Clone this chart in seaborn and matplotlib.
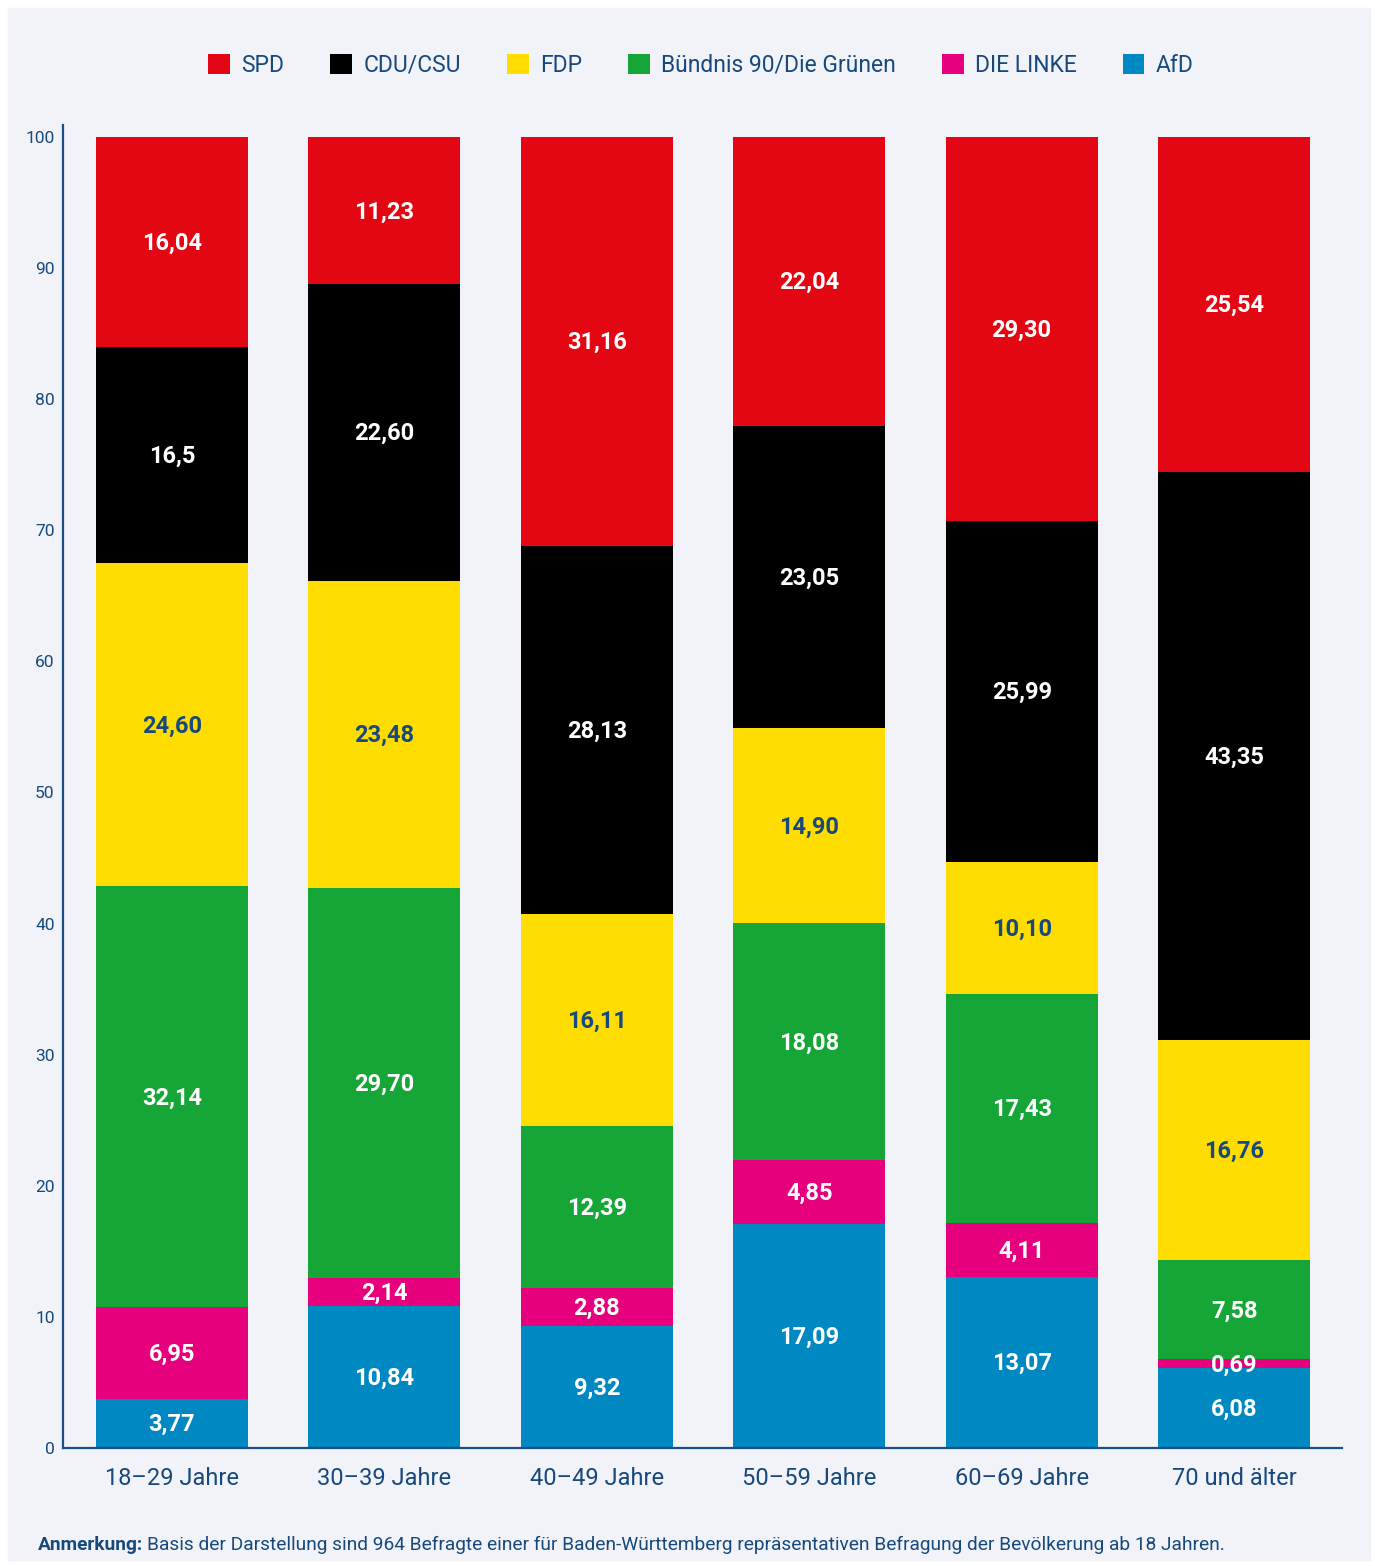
import matplotlib
matplotlib.use("Agg")
import matplotlib.pyplot as plt
import matplotlib.patches as mpatches
import numpy as np
import pandas as pd
import seaborn as sns

# data (bottom of the stack first)
ages = ['18–29 Jahre', '30–39 Jahre', '40–49 Jahre', '50–59 Jahre', '60–69 Jahre', '70 und älter']
afd = [3.77, 10.84, 9.32, 17.09, 13.07, 6.08]
linke = [6.95, 2.14, 2.88, 4.85, 4.11, 0.69]
gruene = [32.14, 29.70, 12.39, 18.08, 17.43, 7.58]
fdp = [24.60, 23.48, 16.11, 14.90, 10.10, 16.76]
cdu = [16.5, 22.60, 28.13, 23.05, 25.99, 43.35]
spd = [16.04, 11.23, 31.16, 22.04, 29.30, 25.54]

parties = ['AfD', 'DIE LINKE', 'Bündnis 90/Die Grünen', 'FDP', 'CDU/CSU', 'SPD']
series = [afd, linke, gruene, fdp, cdu, spd]
colors = {'SPD': '#e30613', 'CDU/CSU': '#000000', 'FDP': '#ffdd00',
          'Bündnis 90/Die Grünen': '#16a637', 'DIE LINKE': '#e6007e', 'AfD': '#0088c3'}
legend_order = ['SPD', 'CDU/CSU', 'FDP', 'Bündnis 90/Die Grünen', 'DIE LINKE', 'AfD']
label_override = {('CDU/CSU', 0): '16,5'}

dark = '#17497c'
bg = '#f2f3f9'

sns.set_theme(style='white')
plt.rcParams['font.family'] = ['Roboto', 'DejaVu Sans']

# long table with stack positions
rows = []
for party, vals in zip(parties, series):
    for age, v in zip(ages, vals):
        rows.append({'age': age, 'party': party, 'value': v})
df = pd.DataFrame(rows)
df['top'] = df.groupby('age')['value'].cumsum()
df['bottom'] = df['top'] - df['value']

fig = plt.figure(figsize=(13.75, 15.66), dpi=100, facecolor='white')
fig.patches.append(mpatches.Rectangle((8 / 1375, 1 - 1560 / 1566), 1362 / 1375, 1552 / 1566,
                                      transform=fig.transFigure, color=bg, zorder=-10))
ax = fig.add_axes([63 / 1375, 1 - 1448 / 1566, (1342 - 63) / 1375, (1448 - 125) / 1566])
ax.set_facecolor(bg)

# draw cumulative tops from the top segment down so each covers the rest
for party in reversed(parties):
    sub = df[df.party == party]
    sns.barplot(data=sub, x='age', y='top', order=ages, color=colors[party],
                saturation=1, width=0.716, ax=ax, errorbar=None, linewidth=0)

for _, r in df.iterrows():
    i = ages.index(r.age)
    txt = label_override.get((r.party, i), f"{r.value:.2f}".replace('.', ','))
    tc = dark if r.party == 'FDP' else 'white'
    ax.text(i, (r.top + r.bottom) / 2 - 0.1, txt, ha='center', va='center',
            fontsize=17, fontweight='bold', color=tc)

ax.set_xlim(-0.513, 5.508)
ax.set_ylim(0, 100.9)
ax.set_yticks(range(0, 101, 10))
ax.set_xlabel('')
ax.set_ylabel('')
ax.tick_params(axis='y', length=0, pad=6, labelsize=12.5, labelcolor=dark)
ax.tick_params(axis='x', length=0, pad=14, labelsize=17, labelcolor=dark)
sns.despine(ax=ax)
for s in ['left', 'bottom']:
    ax.spines[s].set_color('#1c4f82')
    ax.spines[s].set_linewidth(1.6)

handles = [mpatches.Patch(color=colors[p], label=p, linewidth=0) for p in legend_order]
fig.legend(handles=handles, loc='center', bbox_to_anchor=(701 / 1375, 1 - 65 / 1566), ncol=6,
           frameon=False, fontsize=16.5, labelcolor=dark, handlelength=0.95, handleheight=0.95,
           handletextpad=0.5, columnspacing=2.0)

# footnote: bold lead-in followed by regular text
renderer = fig.canvas.get_renderer()
t1 = fig.text(38 / 1375, 1 - 1545 / 1566, 'Anmerkung:', fontsize=13.8, fontweight='bold',
              color=dark, va='center')
bb = t1.get_window_extent(renderer=renderer)
fig.text((bb.x1 + 4) / 1375, 1 - 1545 / 1566,
         'Basis der Darstellung sind 964 Befragte einer für Baden-Württemberg repräsentativen '
         'Befragung der Bevölkerung ab 18 Jahren.', fontsize=13.8, color=dark, va='center')

fig.savefig('out.png', dpi=100, facecolor='white')
